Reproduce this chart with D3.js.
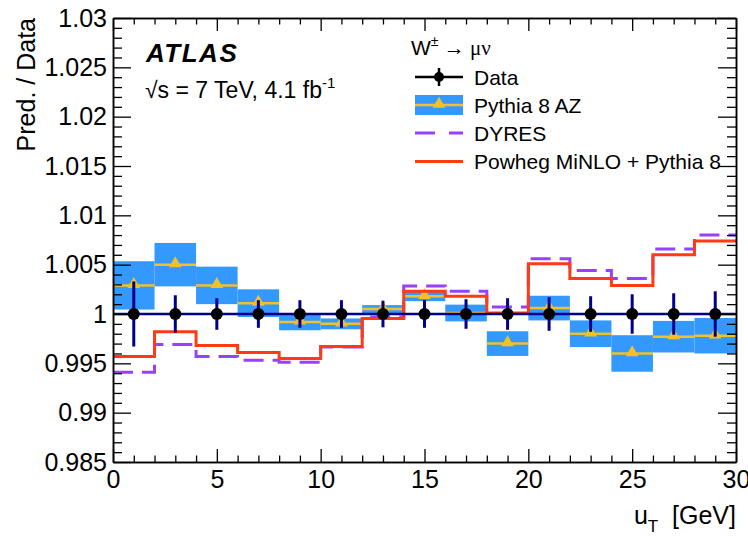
<!DOCTYPE html>
<html>
<head>
<meta charset="utf-8">
<script src="https://cdn.jsdelivr.net/npm/d3@7"></script>
<style>
  html, body { margin: 0; padding: 0; background: #fff; }
  svg { display: block; font-family: "Liberation Sans", Arial, Helvetica, sans-serif; }
</style>
</head>
<body>
<svg id="chart" width="748" height="539"></svg>
<script>
// u_T bin edges [GeV]
const binEdges = [0, 2, 4, 6, 8, 10, 12, 14, 16, 18, 20, 22, 24, 26, 28, 30];
const binCenters = [1, 3, 5, 7, 9, 11, 13, 15, 17, 19, 21, 23, 25, 27, 29];

// Data (ratio = 1 by construction) and its total uncertainty
const dataRatio = [1, 1, 1, 1, 1, 1, 1, 1, 1, 1, 1, 1, 1, 1, 1];
const dataErr = [0.0033, 0.0019, 0.0016, 0.0014, 0.0014, 0.0014, 0.00135, 0.0014,
                 0.0015, 0.0016, 0.0017, 0.0018, 0.0020, 0.0021, 0.0023];

// Pythia 8 AZ prediction / data with its uncertainty band
const pythiaAZ = [1.0029, 1.0050, 1.0029, 1.0011, 0.9992, 0.9990, 1.0005, 1.0018,
                  1.0001, 0.9970, 1.0006, 0.9980, 0.9960, 0.9977, 0.9978];
const pythiaErr = [0.00245, 0.0022, 0.0019, 0.0014, 0.00085, 0.00055, 0.0004, 0.0005,
                   0.00085, 0.00125, 0.00125, 0.00135, 0.00185, 0.0016, 0.0018];

// DYRES prediction / data
const dyres = [0.9941, 0.9969, 0.9957, 0.9953, 0.9951, 0.99665, 0.9997, 1.00285,
               1.0023, 1.0007, 1.0056, 1.0044, 1.0036, 1.0066, 1.0080];

// Powheg MiNLO + Pythia 8 prediction / data
const powheg = [0.9957, 0.9982, 0.9968, 0.9961, 0.9955, 0.9967, 0.99955, 1.0023,
                1.0018, 1.0001, 1.0051, 1.0036, 1.0029, 1.0060, 1.0074];

// Axis ticks
const yMajor = [0.985, 0.99, 0.995, 1, 1.005, 1.01, 1.015, 1.02, 1.025, 1.03];
const yMinor = [0.986, 0.987, 0.988, 0.989, 0.991, 0.992, 0.993, 0.994, 0.996, 0.997,
                0.998, 0.999, 1.001, 1.002, 1.003, 1.004, 1.006, 1.007, 1.008, 1.009,
                1.011, 1.012, 1.013, 1.014, 1.016, 1.017, 1.018, 1.019, 1.021, 1.022,
                1.023, 1.024, 1.026, 1.027, 1.028, 1.029];
const xMajor = [0, 5, 10, 15, 20, 25, 30];
const xMinor = [1, 2, 3, 4, 6, 7, 8, 9, 11, 12, 13, 14, 16, 17, 18, 19, 21, 22, 23, 24,
                26, 27, 28, 29];
const yTickLabels = ["0.985", "0.99", "0.995", "1", "1.005", "1.01", "1.015", "1.02", "1.025", "1.03"];
const xTickLabels = ["0", "5", "10", "15", "20", "25", "30"];

const C = {
  band: "#3399ff",
  yellow: "#f2c028",
  purple: "#9940ff",
  red: "#ff3a14",
  navy: "#00008b",
  black: "#000"
};

const svg = d3.select("#chart");
const L = 113, R = 736, T = 18, B = 462;

const x = d3.scaleLinear().domain([0, 30]).range([L, R]);
const y = d3.scaleLinear().domain([0.985, 1.03]).range([B, T]);

const plot = svg.append("g");

// Pythia 8 AZ uncertainty band
plot.selectAll("rect.band")
  .data(pythiaAZ)
  .enter().append("rect")
  .attr("class", "band")
  .attr("x", (d, i) => x(binEdges[i]))
  .attr("width", (d, i) => x(binEdges[i + 1]) - x(binEdges[i]))
  .attr("y", (d, i) => y(d + pythiaErr[i]))
  .attr("height", (d, i) => y(d - pythiaErr[i]) - y(d + pythiaErr[i]))
  .attr("fill", C.band);

// Pythia 8 AZ central values
plot.selectAll("line.az")
  .data(pythiaAZ)
  .enter().append("line")
  .attr("x1", (d, i) => x(binEdges[i]))
  .attr("x2", (d, i) => x(binEdges[i + 1]))
  .attr("y1", d => y(d)).attr("y2", d => y(d))
  .attr("stroke", C.yellow).attr("stroke-width", 2.5);

const tri = d3.symbol().type(d3.symbolTriangle).size(70);
plot.selectAll("path.tri")
  .data(pythiaAZ)
  .enter().append("path")
  .attr("d", tri)
  .attr("transform", (d, i) => `translate(${x(binCenters[i])},${y(d) - 1})`)
  .attr("fill", C.yellow);

// Histogram-style step lines
function stepPoints(vals) {
  const pts = [];
  vals.forEach((v, i) => {
    pts.push([binEdges[i], v]);
    pts.push([binEdges[i + 1], v]);
  });
  return pts;
}
const stepLine = d3.line().x(d => x(d[0])).y(d => y(d[1]));

plot.append("path")
  .attr("d", stepLine(stepPoints(dyres)))
  .attr("fill", "none")
  .attr("stroke", C.purple)
  .attr("stroke-width", 3)
  .attr("stroke-dasharray", "20,9");

plot.append("path")
  .attr("d", stepLine(stepPoints(powheg)))
  .attr("fill", "none")
  .attr("stroke", C.red)
  .attr("stroke-width", 3);

// Data: connecting line, error bars, markers
plot.append("line")
  .attr("x1", x(0)).attr("x2", x(30))
  .attr("y1", y(1)).attr("y2", y(1))
  .attr("stroke", C.navy).attr("stroke-width", 2.5);

plot.selectAll("line.err")
  .data(dataRatio)
  .enter().append("line")
  .attr("x1", (d, i) => x(binCenters[i]))
  .attr("x2", (d, i) => x(binCenters[i]))
  .attr("y1", (d, i) => y(d + dataErr[i]))
  .attr("y2", (d, i) => y(d - dataErr[i]))
  .attr("stroke", C.navy).attr("stroke-width", 3);

plot.selectAll("circle.pt")
  .data(dataRatio)
  .enter().append("circle")
  .attr("cx", (d, i) => x(binCenters[i]))
  .attr("cy", d => y(d))
  .attr("r", 6)
  .attr("fill", C.black);

// Axes with inward ticks on all four sides
function styleAxis(g) {
  g.selectAll("path.domain").attr("stroke", "#000").attr("stroke-width", 1.5);
  g.selectAll(".tick line").attr("stroke", "#000").attr("stroke-width", 1.3);
  g.selectAll("text").attr("font-size", 25).attr("fill", "#000")
    .attr("font-family", "'Liberation Sans', Arial, Helvetica, sans-serif");
}

svg.append("g").attr("transform", `translate(${L},0)`)
  .call(d3.axisLeft(y).tickValues(yMajor).tickSize(-18).tickSizeOuter(0).tickPadding(6)
    .tickFormat((d, i) => yTickLabels[i]))
  .call(styleAxis);
svg.append("g").attr("transform", `translate(${L},0)`)
  .call(d3.axisLeft(y).tickValues(yMinor).tickSize(-9).tickSizeOuter(0).tickFormat(""))
  .call(styleAxis);
svg.append("g").attr("transform", `translate(${R},0)`)
  .call(d3.axisRight(y).tickValues(yMajor).tickSize(-18).tickSizeOuter(0).tickFormat(""))
  .call(styleAxis);
svg.append("g").attr("transform", `translate(${R},0)`)
  .call(d3.axisRight(y).tickValues(yMinor).tickSize(-9).tickSizeOuter(0).tickFormat(""))
  .call(styleAxis);

svg.append("g").attr("transform", `translate(0,${B})`)
  .call(d3.axisBottom(x).tickValues(xMajor).tickSize(-13).tickSizeOuter(0).tickPadding(8)
    .tickFormat((d, i) => xTickLabels[i]))
  .call(styleAxis);
svg.append("g").attr("transform", `translate(0,${B})`)
  .call(d3.axisBottom(x).tickValues(xMinor).tickSize(-6.5).tickSizeOuter(0).tickFormat(""))
  .call(styleAxis);
svg.append("g").attr("transform", `translate(0,${T})`)
  .call(d3.axisTop(x).tickValues(xMajor).tickSize(-13).tickSizeOuter(0).tickFormat(""))
  .call(styleAxis);
svg.append("g").attr("transform", `translate(0,${T})`)
  .call(d3.axisTop(x).tickValues(xMinor).tickSize(-6.5).tickSizeOuter(0).tickFormat(""))
  .call(styleAxis);

// Axis titles
svg.append("text")
  .attr("transform", "translate(35,18) rotate(-90)")
  .attr("text-anchor", "end")
  .attr("font-size", 25)
  .text("Pred. / Data");

const xt = svg.append("text")
  .attr("x", R).attr("y", 524)
  .attr("text-anchor", "end")
  .attr("font-size", 25);
xt.append("tspan").text("u");
xt.append("tspan").attr("font-size", 17).attr("dy", 8).text("T");
xt.append("tspan").attr("dy", -8).text("  [GeV]").attr("xml:space", "preserve");

// Experiment labels
svg.append("text")
  .attr("x", 146).attr("y", 62)
  .attr("font-size", 26).attr("font-weight", "bold").attr("font-style", "italic")
  .attr("letter-spacing", 1.5)
  .text("ATLAS");

const lumi = svg.append("text")
  .attr("x", 145).attr("y", 98)
  .attr("font-size", 23);
lumi.append("tspan").text("\u221As = 7 TeV, 4.1 fb");
lumi.append("tspan").attr("font-size", 15).attr("dy", -10).text("-1");

// Legend
const lg = svg.append("g");
const header = lg.append("text").attr("x", 411).attr("y", 55).attr("font-size", 21);
header.append("tspan").text("W");
header.append("tspan").attr("font-size", 14).attr("dy", -9).text("\u00B1");
header.append("tspan").attr("dy", 9).attr("font-family", "'Liberation Serif', 'DejaVu Serif', serif")
  .text(" \u2192 \u03BC\u03BD");

const lx0 = 415, lx1 = 463, ltx = 474;
const rows = [
  { key: "data", label: "Data", yc: 77 },
  { key: "az", label: "Pythia 8 AZ", yc: 105 },
  { key: "dyres", label: "DYRES", yc: 133 },
  { key: "powheg", label: "Powheg MiNLO + Pythia 8", yc: 161.5 }
];
rows.forEach(r => {
  if (r.key === "data") {
    lg.append("line").attr("x1", lx0).attr("x2", lx1).attr("y1", r.yc).attr("y2", r.yc)
      .attr("stroke", "#000").attr("stroke-width", 2.5);
    lg.append("line").attr("x1", (lx0 + lx1) / 2).attr("x2", (lx0 + lx1) / 2)
      .attr("y1", r.yc - 9).attr("y2", r.yc + 9).attr("stroke", "#000").attr("stroke-width", 2.5);
    lg.append("circle").attr("cx", (lx0 + lx1) / 2).attr("cy", r.yc).attr("r", 5).attr("fill", "#000");
  } else if (r.key === "az") {
    lg.append("rect").attr("x", lx0).attr("y", r.yc - 10).attr("width", lx1 - lx0).attr("height", 20)
      .attr("fill", C.band);
    lg.append("line").attr("x1", lx0).attr("x2", lx1).attr("y1", r.yc).attr("y2", r.yc)
      .attr("stroke", C.yellow).attr("stroke-width", 2.5);
    lg.append("path").attr("d", tri).attr("transform", `translate(${(lx0 + lx1) / 2},${r.yc - 1})`)
      .attr("fill", C.yellow);
  } else if (r.key === "dyres") {
    lg.append("line").attr("x1", lx0).attr("x2", lx1).attr("y1", r.yc).attr("y2", r.yc)
      .attr("stroke", C.purple).attr("stroke-width", 3).attr("stroke-dasharray", "20,14");
  } else {
    lg.append("line").attr("x1", lx0).attr("x2", lx1).attr("y1", r.yc).attr("y2", r.yc)
      .attr("stroke", C.red).attr("stroke-width", 3);
  }
  lg.append("text").attr("x", ltx).attr("y", r.yc + 7.5).attr("font-size", 21).text(r.label);
});
</script>
</body>
</html>
